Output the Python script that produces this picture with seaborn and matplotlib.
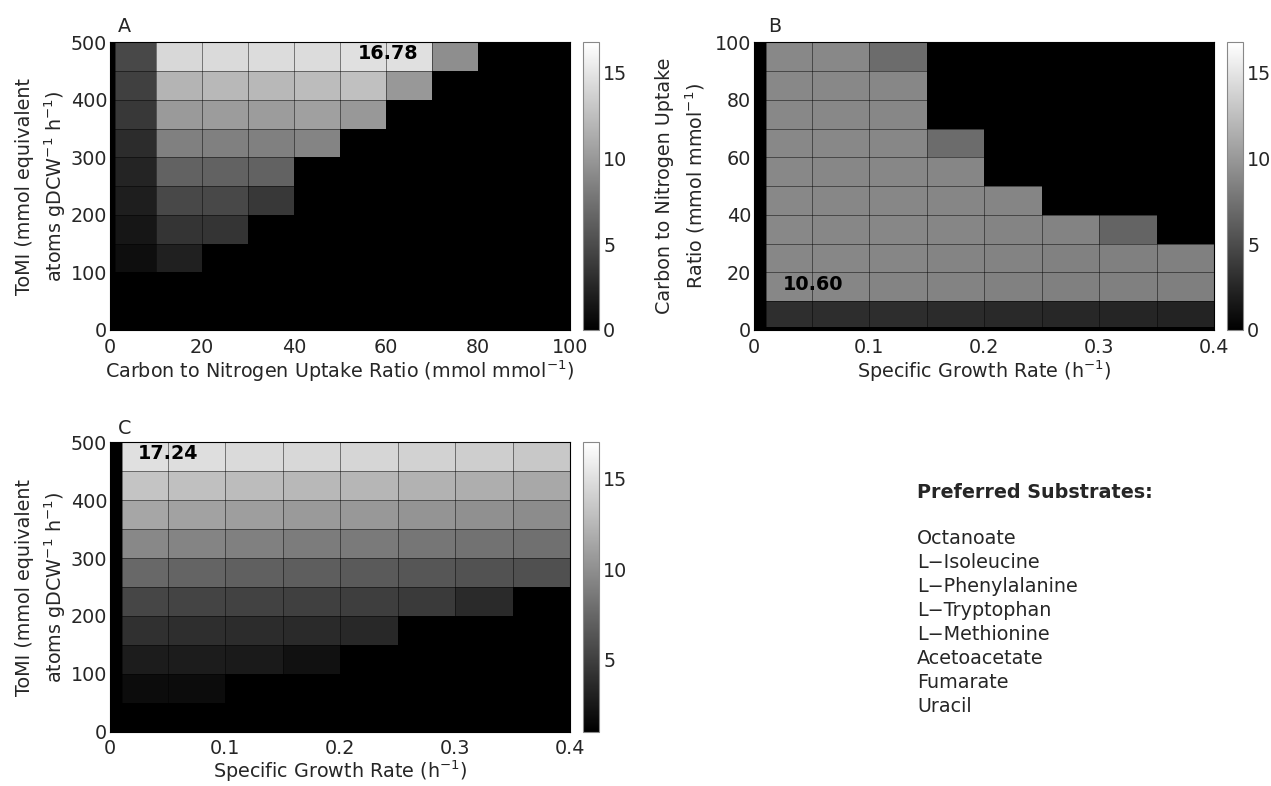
import numpy as np
import matplotlib
matplotlib.use("Agg")
import matplotlib.pyplot as plt
import seaborn as sns

# Panel A: ToMI vs carbon/nitrogen uptake ratio
ratio_edges_a = [0, 1, 10, 20, 30, 40, 50, 60, 70, 80, 90, 100]
tomi_edges = [0, 50, 100, 150, 200, 250, 300, 350, 400, 450, 500]
# rows from ToMI 450-500 (top) down to 0-50; columns from ratio 0-1 up to 90-100
values_a = [
    [0, 4.74, 14.21, 14.35, 14.48, 14.48, 14.74, 14.74, 9.34, 0, 0],
    [0, 4.21, 11.84, 12.11, 12.11, 12.37, 12.63, 10.00, 0, 0, 0],
    [0, 3.68, 10.13, 10.27, 10.27, 10.53, 10.00, 0, 0, 0, 0],
    [0, 2.90, 8.42, 8.42, 8.42, 8.69, 0, 0, 0, 0, 0],
    [0, 2.37, 6.45, 6.45, 6.45, 0, 0, 0, 0, 0, 0],
    [0, 1.97, 4.74, 4.74, 3.68, 0, 0, 0, 0, 0, 0],
    [0, 1.45, 3.42, 3.42, 0, 0, 0, 0, 0, 0, 0],
    [0, 0.92, 2.11, 0, 0, 0, 0, 0, 0, 0, 0],
    [0, 0, 0, 0, 0, 0, 0, 0, 0, 0, 0],
    [0, 0, 0, 0, 0, 0, 0, 0, 0, 0, 0],
]

# Panel B: C/N uptake ratio vs specific growth rate
growth_edges = [0, 0.01, 0.05, 0.1, 0.15, 0.2, 0.25, 0.3, 0.35, 0.4]
ratio_edges_b = [0, 1, 10, 20, 30, 40, 50, 60, 70, 80, 90, 100]
# rows from ratio 90-100 (top) down to 0-1; columns from growth 0-0.01 up to 0.35-0.4
values_b = [
    [0, 8.95, 8.95, 7.11, 0, 0, 0, 0, 0],
    [0, 8.95, 8.95, 8.90, 0, 0, 0, 0, 0],
    [0, 8.95, 8.95, 8.90, 0, 0, 0, 0, 0],
    [0, 8.95, 8.95, 8.90, 7.11, 0, 0, 0, 0],
    [0, 8.95, 8.90, 8.85, 8.80, 0, 0, 0, 0],
    [0, 8.95, 8.90, 8.85, 8.80, 8.75, 0, 0, 0],
    [0, 8.95, 8.90, 8.85, 8.80, 8.70, 8.60, 6.58, 0],
    [0, 8.90, 8.85, 8.80, 8.70, 8.60, 8.50, 8.45, 8.40],
    [0, 8.85, 8.80, 8.70, 8.60, 8.50, 8.45, 8.40, 8.35],
    [0, 3.03, 3.00, 2.95, 2.85, 2.75, 2.60, 2.45, 2.30],
    [0, 0, 0, 0, 0, 0, 0, 0, 0],
]

# Panel C: ToMI vs specific growth rate
values_c = [
    [1.05, 15.04, 14.92, 14.67, 14.54, 14.42, 14.17, 13.92, 13.54],
    [1.05, 13.29, 13.04, 12.79, 12.54, 12.42, 12.17, 11.92, 11.54],
    [1.05, 11.42, 11.17, 10.92, 10.67, 10.55, 10.30, 10.05, 9.80],
    [1.05, 9.55, 9.30, 9.05, 8.80, 8.67, 8.42, 8.17, 8.05],
    [1.05, 7.55, 7.30, 7.05, 6.92, 6.67, 6.42, 6.17, 6.05],
    [1.05, 5.42, 5.30, 5.17, 5.05, 4.92, 4.67, 3.67, 1.05],
    [1.05, 4.05, 3.92, 3.80, 3.67, 3.55, 1.05, 1.05, 1.05],
    [1.05, 2.80, 2.80, 2.67, 2.17, 1.05, 1.05, 1.05, 1.05],
    [1.05, 1.80, 1.80, 1.05, 1.05, 1.05, 1.05, 1.05, 1.05],
    [1.05, 1.05, 1.05, 1.05, 1.05, 1.05, 1.05, 1.05, 1.05],
]

substrates = ["Octanoate", "L\u2212Isoleucine", "L\u2212Phenylalanine", "L\u2212Tryptophan",
              "L\u2212Methionine", "Acetoacetate", "Fumarate", "Uracil"]

sns.set_style("white")
plt.rcParams["font.family"] = ["DejaVu Sans"]
plt.rcParams["mathtext.fontset"] = "dejavusans"
FS = 13.8

W, H = 1271, 786


def px_box(left, top, right, bottom):
    return [left / W, 1 - bottom / H, (right - left) / W, (bottom - top) / H]


def expand(values, x_edges, y_edges, x_step, y_step):
    # repeat each cell over a uniform grid so uneven cell widths survive in a heatmap
    wx = np.rint(np.diff(x_edges) / x_step).astype(int)
    wy = np.rint(np.diff(y_edges) / y_step).astype(int)[::-1]
    arr = np.repeat(np.asarray(values, float), wx, axis=1)
    return np.repeat(arr, wy, axis=0)


def draw_panel(ax, cax, values, x_edges, y_edges, x_step, y_step, vmin, vmax,
               xticks, yticks, cticks):
    fine = expand(values, x_edges, y_edges, x_step, y_step)
    sns.heatmap(fine, ax=ax, cbar_ax=cax, cmap="gray", vmin=vmin, vmax=vmax,
                xticklabels=False, yticklabels=False)
    y_top = y_edges[-1]
    for xe in x_edges[1:-1]:
        ax.axvline(xe / x_step, color="black", lw=0.6, alpha=0.55)
    for ye in y_edges[1:-1]:
        ax.axhline((y_top - ye) / y_step, color="black", lw=0.6, alpha=0.55)
    ax.set_xticks([v / x_step for v in xticks])
    ax.set_xticklabels([f"{v:g}" for v in xticks])
    ax.set_yticks([(y_top - v) / y_step for v in yticks])
    ax.set_yticklabels([f"{v:g}" for v in yticks], rotation=0)
    ax.tick_params(axis="x", length=0, pad=5.5, labelsize=FS)
    ax.tick_params(axis="y", length=0, pad=2, labelsize=FS)
    for s in ax.spines.values():
        s.set_visible(True)
        s.set_color("black")
        s.set_linewidth(0.8)
    cbar = ax.collections[0].colorbar
    cbar.set_ticks(cticks)
    cbar.ax.tick_params(labelsize=FS, direction="in", length=3, width=0.6,
                        left=True, right=True, color="#555555", pad=3)
    cbar.outline.set_edgecolor("#888888")
    cbar.outline.set_linewidth(0.8)


def label_cell(ax, x, y, text, x_step, y_step, y_top):
    ax.text(x / x_step, (y_top - y) / y_step, text, fontsize=FS, fontweight="bold",
            ha="left", va="center", color="black")


fig = plt.figure(figsize=(W / 100, H / 100), dpi=100)

ax_a = fig.add_axes(px_box(110, 42.5, 570, 330))
cax_a = fig.add_axes(px_box(583, 42.5, 599, 330))
draw_panel(ax_a, cax_a, values_a, ratio_edges_a, tomi_edges, 1, 50, 0, 16.78,
           [0, 20, 40, 60, 80, 100], [0, 100, 200, 300, 400, 500], [0, 5, 10, 15])
label_cell(ax_a, 53.9, 481, "16.78", 1, 50, 500)
ax_a.set_xlabel("Carbon to Nitrogen Uptake Ratio (mmol mmol$^{-1}$)", fontsize=FS, labelpad=1)
ax_a.set_ylabel("ToMI (mmol equivalent\natoms gDCW$^{-1}$ h$^{-1}$)", fontsize=FS,
                labelpad=2, linespacing=1.45)

ax_b = fig.add_axes(px_box(754, 42.5, 1214, 330))
cax_b = fig.add_axes(px_box(1227, 42.5, 1243, 330))
draw_panel(ax_b, cax_b, values_b, growth_edges, ratio_edges_b, 0.01, 1, 0, 16.78,
           [0, 0.1, 0.2, 0.3, 0.4], [0, 20, 40, 60, 80, 100], [0, 5, 10, 15])
label_cell(ax_b, 0.025, 15.7, "10.60", 0.01, 1, 100)
ax_b.set_xlabel("Specific Growth Rate (h$^{-1}$)", fontsize=FS, labelpad=1)
ax_b.set_ylabel("Carbon to Nitrogen Uptake\nRatio (mmol mmol$^{-1}$)", fontsize=FS,
                labelpad=6, linespacing=1.45)

ax_c = fig.add_axes(px_box(110, 442.3, 570, 731.7))
cax_c = fig.add_axes(px_box(583, 442.3, 599, 731.7))
draw_panel(ax_c, cax_c, values_c, growth_edges, tomi_edges, 0.01, 50, 1.05, 16.98,
           [0, 0.1, 0.2, 0.3, 0.4], [0, 100, 200, 300, 400, 500], [5, 10, 15])
label_cell(ax_c, 0.024, 480.6, "17.24", 0.01, 50, 500)
ax_c.set_xlabel("Specific Growth Rate (h$^{-1}$)", fontsize=FS, labelpad=0)
ax_c.set_ylabel("ToMI (mmol equivalent\natoms gDCW$^{-1}$ h$^{-1}$)", fontsize=FS,
                labelpad=2, linespacing=1.45)

for letter, (lx, ly) in zip("ABC", [(118, 27), (768, 27), (118, 429)]):
    fig.text(lx / W, 1 - ly / H, letter, fontsize=FS, ha="left", va="center")

fig.text(917 / W, 1 - 493 / H, "Preferred Substrates:", fontsize=FS, fontweight="bold",
         ha="left", va="center")
for i, name in enumerate(substrates):
    fig.text(917 / W, 1 - (538.7 + 24 * i) / H, name, fontsize=FS, ha="left", va="center")

fig.savefig("out.png", dpi=100)
